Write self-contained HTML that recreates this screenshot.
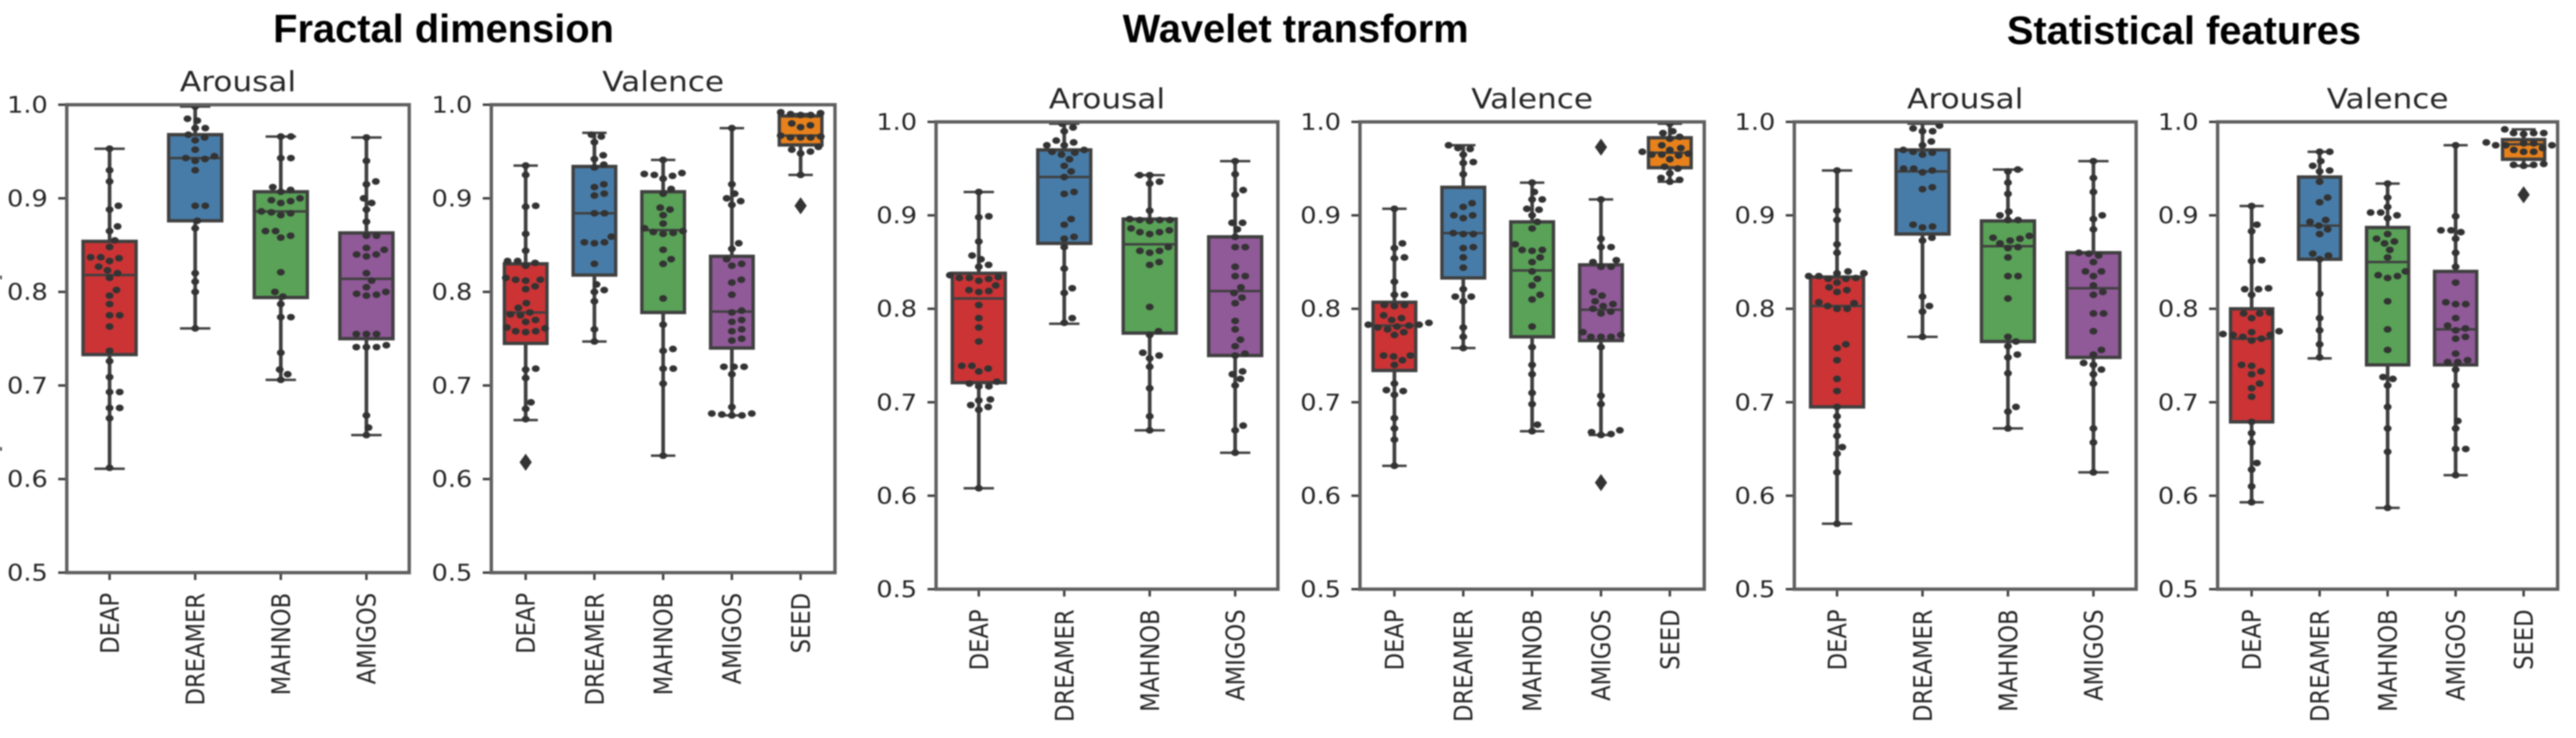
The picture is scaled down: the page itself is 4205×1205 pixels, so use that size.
<!DOCTYPE html>
<html lang="en">
<head>
<meta charset="utf-8">
<title>Fractal dimension, wavelet transform and statistical features box plots</title>
<style>
html,body{margin:0;padding:0;background:#fff;}
#figure{display:block;width:4205px;height:1205px;filter:blur(1px);}
.main-title{font-family:"Liberation Sans",sans-serif;font-weight:bold;font-size:65px;fill:#000;text-anchor:middle;}
.sub-title{font-family:"DejaVu Sans",sans-serif;font-size:45px;fill:#262626;text-anchor:middle;}
.tick-label{font-family:"DejaVu Sans",sans-serif;font-size:37px;fill:#262626;}
</style>
</head>
<body>
<svg id="figure" xmlns="http://www.w3.org/2000/svg" width="4205" height="1205" viewBox="0 0 4205 1205">
  <rect x="0" y="0" width="4205" height="1205" fill="#ffffff"/>
  <text class="main-title" x="724" y="69">Fractal dimension</text>
  <text class="main-title" x="2115" y="69">Wavelet transform</text>
  <text class="main-title" x="3565" y="72">Statistical features</text>
  <rect x="0" y="450" width="3" height="6" fill="#444"/>
  <rect x="0" y="730" width="3" height="6" fill="#444"/>
  <g id="panels"></g>
</svg>
<script>
// ---------- shared labels ----------
const categoriesArousal = ["DEAP", "DREAMER", "MAHNOB", "AMIGOS"];
const categoriesValence = ["DEAP", "DREAMER", "MAHNOB", "AMIGOS", "SEED"];
const yTickValues = [0.5, 0.6, 0.7, 0.8, 0.9, 1.0];
const yTickLabels = ["0.5", "0.6", "0.7", "0.8", "0.9", "1.0"];

// ---------- Fractal dimension / Arousal ----------
// each box: [lower whisker, q1, median, q3, upper whisker]
const fdArousalBoxes = [
  [0.611, 0.733, 0.818, 0.854, 0.953],
  [0.761, 0.876, 0.943, 0.968, 0.998],
  [0.706, 0.794, 0.886, 0.907, 0.966],
  [0.647, 0.750, 0.814, 0.863, 0.965]
];
const fdArousalPoints = [
  [0.953,0.930,0.918,0.892,0.888,0.870,0.865,0.855,0.848,0.837,0.837,0.836,0.833,0.827,0.823,0.820,0.815,0.802,0.796,0.787,0.775,0.775,0.763,0.737,0.726,0.709,0.693,0.693,0.676,0.676,0.665,0.612],
  [0.998,0.985,0.983,0.975,0.975,0.968,0.965,0.962,0.952,0.945,0.943,0.942,0.940,0.930,0.892,0.892,0.876,0.868,0.820,0.811,0.800,0.761],
  [0.966,0.966,0.943,0.943,0.912,0.909,0.907,0.900,0.898,0.897,0.895,0.886,0.885,0.884,0.882,0.865,0.865,0.860,0.858,0.821,0.800,0.795,0.787,0.773,0.773,0.735,0.717,0.712,0.706],
  [0.965,0.940,0.918,0.915,0.900,0.895,0.888,0.875,0.860,0.860,0.847,0.845,0.840,0.840,0.838,0.820,0.812,0.805,0.800,0.798,0.797,0.796,0.755,0.755,0.755,0.743,0.741,0.741,0.741,0.668,0.655,0.647]
];
const fdArousalOutliers = [[], [], [], []];

// ---------- Fractal dimension / Valence ----------
const fdValenceBoxes = [
  [0.663, 0.745, 0.778, 0.830, 0.935],
  [0.747, 0.818, 0.884, 0.934, 0.970],
  [0.625, 0.778, 0.866, 0.907, 0.941],
  [0.668, 0.740, 0.779, 0.838, 0.975],
  [0.925, 0.957, 0.967, 0.988, 0.990]
];
const fdValencePoints = [
  [0.935,0.925,0.892,0.891,0.862,0.844,0.833,0.833,0.831,0.828,0.815,0.813,0.813,0.812,0.806,0.803,0.788,0.783,0.778,0.776,0.775,0.770,0.768,0.762,0.761,0.758,0.758,0.757,0.718,0.717,0.708,0.682,0.675,0.664],
  [0.968,0.966,0.960,0.946,0.942,0.936,0.933,0.915,0.912,0.905,0.903,0.884,0.884,0.859,0.853,0.852,0.853,0.830,0.808,0.802,0.800,0.790,0.760,0.747],
  [0.941,0.927,0.926,0.925,0.924,0.921,0.910,0.905,0.890,0.888,0.882,0.873,0.868,0.865,0.864,0.863,0.862,0.845,0.835,0.830,0.793,0.765,0.739,0.737,0.718,0.718,0.702,0.625],
  [0.975,0.915,0.905,0.900,0.897,0.893,0.852,0.846,0.835,0.830,0.828,0.813,0.810,0.797,0.780,0.778,0.770,0.768,0.760,0.758,0.750,0.748,0.720,0.720,0.720,0.712,0.677,0.670,0.670,0.669,0.668,0.668],
  [0.992,0.991,0.990,0.989,0.989,0.980,0.978,0.976,0.967,0.966,0.965,0.965,0.965,0.955,0.952,0.950,0.948,0.925]
];
const fdValenceOutliers = [[0.618], [], [], [], [0.892]];

// ---------- Wavelet transform / Arousal ----------
const wtArousalBoxes = [
  [0.608, 0.721, 0.811, 0.838, 0.925],
  [0.784, 0.870, 0.941, 0.970, 0.998],
  [0.670, 0.774, 0.869, 0.896, 0.943],
  [0.646, 0.750, 0.819, 0.877, 0.958]
];
const wtArousalPoints = [
  [0.925,0.899,0.898,0.872,0.857,0.853,0.847,0.845,0.836,0.834,0.833,0.833,0.832,0.830,0.825,0.820,0.819,0.818,0.804,0.790,0.780,0.765,0.739,0.739,0.736,0.733,0.722,0.720,0.717,0.717,0.703,0.702,0.697,0.695,0.692,0.608],
  [0.998,0.994,0.990,0.980,0.978,0.975,0.975,0.970,0.968,0.967,0.965,0.960,0.953,0.947,0.941,0.925,0.923,0.896,0.890,0.877,0.875,0.866,0.843,0.822,0.817,0.790,0.785],
  [0.943,0.943,0.936,0.934,0.905,0.896,0.895,0.895,0.895,0.894,0.886,0.884,0.882,0.882,0.880,0.866,0.862,0.862,0.860,0.850,0.847,0.802,0.776,0.772,0.753,0.750,0.747,0.738,0.715,0.685,0.670],
  [0.958,0.944,0.927,0.922,0.892,0.892,0.885,0.877,0.866,0.866,0.845,0.835,0.835,0.823,0.817,0.812,0.806,0.787,0.778,0.767,0.760,0.752,0.750,0.733,0.730,0.725,0.718,0.675,0.670,0.646]
];
const wtArousalOutliers = [[], [], [], []];

// ---------- Wavelet transform / Valence ----------
const wtValenceBoxes = [
  [0.632, 0.734, 0.782, 0.807, 0.907],
  [0.758, 0.833, 0.881, 0.930, 0.975],
  [0.669, 0.770, 0.841, 0.893, 0.935],
  [0.665, 0.766, 0.799, 0.847, 0.917],
  [0.936, 0.951, 0.967, 0.983, 0.998]
];
const wtValencePoints = [
  [0.907,0.870,0.865,0.855,0.854,0.829,0.815,0.815,0.804,0.804,0.803,0.793,0.790,0.788,0.785,0.783,0.783,0.782,0.781,0.780,0.778,0.775,0.772,0.750,0.749,0.750,0.745,0.740,0.720,0.713,0.712,0.708,0.683,0.672,0.660,0.632],
  [0.975,0.972,0.971,0.965,0.957,0.956,0.944,0.913,0.909,0.900,0.900,0.897,0.881,0.880,0.880,0.866,0.865,0.855,0.844,0.821,0.813,0.813,0.808,0.780,0.770,0.758],
  [0.935,0.925,0.917,0.917,0.907,0.906,0.900,0.893,0.886,0.869,0.863,0.863,0.862,0.855,0.850,0.840,0.832,0.825,0.815,0.810,0.781,0.759,0.740,0.730,0.710,0.698,0.676,0.669],
  [0.917,0.875,0.866,0.866,0.852,0.850,0.845,0.845,0.818,0.814,0.808,0.805,0.803,0.800,0.797,0.795,0.775,0.772,0.770,0.770,0.770,0.759,0.707,0.698,0.670,0.668,0.666,0.665],
  [0.998,0.990,0.988,0.984,0.982,0.975,0.972,0.970,0.968,0.966,0.965,0.965,0.964,0.960,0.952,0.950,0.945,0.940,0.938,0.936]
];
const wtValenceOutliers = [[], [], [], [0.973, 0.614], []];

// ---------- Statistical features / Arousal ----------
const sfArousalBoxes = [
  [0.570, 0.695, 0.803, 0.834, 0.948],
  [0.770, 0.880, 0.947, 0.970, 0.998],
  [0.672, 0.765, 0.867, 0.894, 0.949],
  [0.625, 0.748, 0.822, 0.860, 0.958]
];
const sfArousalPoints = [
  [0.948,0.905,0.895,0.869,0.860,0.840,0.838,0.838,0.835,0.835,0.833,0.832,0.832,0.828,0.823,0.820,0.818,0.807,0.806,0.803,0.800,0.800,0.762,0.758,0.745,0.725,0.712,0.695,0.685,0.675,0.664,0.652,0.645,0.625,0.570],
  [0.996,0.993,0.990,0.990,0.979,0.975,0.970,0.968,0.967,0.965,0.950,0.950,0.948,0.946,0.930,0.928,0.890,0.888,0.887,0.876,0.873,0.813,0.803,0.797,0.770],
  [0.949,0.947,0.935,0.923,0.904,0.900,0.895,0.895,0.878,0.876,0.875,0.873,0.870,0.866,0.865,0.855,0.835,0.835,0.811,0.770,0.765,0.760,0.751,0.748,0.731,0.695,0.690,0.672],
  [0.958,0.940,0.925,0.900,0.896,0.885,0.860,0.859,0.857,0.850,0.840,0.840,0.835,0.825,0.818,0.815,0.795,0.795,0.776,0.756,0.751,0.742,0.740,0.735,0.730,0.720,0.672,0.657,0.625]
];
const sfArousalOutliers = [[], [], [], []];

// ---------- Statistical features / Valence ----------
const sfValenceBoxes = [
  [0.593, 0.679, 0.768, 0.800, 0.910],
  [0.747, 0.853, 0.889, 0.941, 0.968],
  [0.587, 0.740, 0.850, 0.887, 0.934],
  [0.622, 0.740, 0.778, 0.840, 0.975],
  [0.953, 0.960, 0.976, 0.981, 0.992]
];
const sfValencePoints = [
  [0.910,0.890,0.883,0.852,0.851,0.822,0.821,0.821,0.815,0.796,0.795,0.795,0.790,0.776,0.775,0.773,0.772,0.772,0.770,0.768,0.766,0.740,0.739,0.733,0.730,0.720,0.715,0.706,0.679,0.667,0.657,0.635,0.628,0.610,0.593],
  [0.968,0.968,0.958,0.953,0.948,0.947,0.936,0.919,0.914,0.895,0.893,0.889,0.885,0.880,0.859,0.857,0.853,0.816,0.790,0.777,0.762,0.748],
  [0.934,0.919,0.909,0.903,0.903,0.900,0.897,0.880,0.875,0.872,0.870,0.863,0.855,0.840,0.836,0.835,0.833,0.808,0.778,0.756,0.727,0.725,0.718,0.695,0.672,0.647,0.587],
  [0.975,0.899,0.884,0.884,0.882,0.875,0.860,0.845,0.828,0.807,0.805,0.805,0.790,0.782,0.779,0.777,0.770,0.768,0.752,0.745,0.743,0.743,0.735,0.718,0.680,0.672,0.650,0.650,0.622],
  [0.992,0.988,0.988,0.988,0.987,0.978,0.977,0.977,0.975,0.975,0.975,0.972,0.970,0.968,0.968,0.955,0.954,0.954,0.953]
];
const sfValenceOutliers = [[], [], [], [], [0.922]];

// ---------- styling and layout (not data) ----------
const boxColors = ["#cb3335", "#477ca8", "#59a257", "#905998", "#e8811b"];
const panels = [
  {id:"fractal-arousal",  title:"Arousal", left:109,  right:668,  top:171, bottom:935, cats:categoriesArousal, boxes:fdArousalBoxes, points:fdArousalPoints, outliers:fdArousalOutliers},
  {id:"fractal-valence",  title:"Valence", left:802,  right:1363, top:171, bottom:935, cats:categoriesValence, boxes:fdValenceBoxes, points:fdValencePoints, outliers:fdValenceOutliers},
  {id:"wavelet-arousal",  title:"Arousal", left:1528, right:2086, top:199, bottom:962, cats:categoriesArousal, boxes:wtArousalBoxes, points:wtArousalPoints, outliers:wtArousalOutliers},
  {id:"wavelet-valence",  title:"Valence", left:2220, right:2782, top:199, bottom:962, cats:categoriesValence, boxes:wtValenceBoxes, points:wtValencePoints, outliers:wtValenceOutliers},
  {id:"statistical-arousal", title:"Arousal", left:2929, right:3487, top:199, bottom:962, cats:categoriesArousal, boxes:sfArousalBoxes, points:sfArousalPoints, outliers:sfArousalOutliers},
  {id:"statistical-valence", title:"Valence", left:3620, right:4175, top:199, bottom:962, cats:categoriesValence, boxes:sfValenceBoxes, points:sfValencePoints, outliers:sfValenceOutliers}
];
const NS = "http://www.w3.org/2000/svg";
const DARK = "#404040";
const SPINE = "#5f5f5f";
const DOT = "#333333";
const SWARM_SPACING_X = 16.5;
const SWARM_SPACING_Y = 12.5;
const DOT_RX = 6.4;
const DOT_RY = 5.4;
const TEXT_STRETCH = 1.13;

function make(tag, attrs, parent) {
  const el = document.createElementNS(NS, tag);
  for (const k in attrs) el.setAttribute(k, attrs[k]);
  parent.appendChild(el);
  return el;
}

// Beeswarm: place lowest values first, each as near the centre as it can go without overlap.
function swarmOffsets(values, yScale) {
  const order = values.map((v, i) => i).sort((a, b) => values[a] - values[b]);
  const placed = [];
  const offsets = new Array(values.length).fill(0);
  const k = SWARM_SPACING_X / SWARM_SPACING_Y;
  order.forEach(function (idx) {
    const y = yScale(values[idx]);
    const near = placed.filter(p => Math.abs(p.y - y) < SWARM_SPACING_Y);
    const candidates = [0];
    near.forEach(function (p) {
      const ny = (p.y - y) * k;
      const dx = Math.sqrt(SWARM_SPACING_X * SWARM_SPACING_X - ny * ny);
      candidates.push(p.x + dx, p.x - dx);
    });
    candidates.sort((a, b) => Math.abs(a) - Math.abs(b));
    let chosen = 0;
    for (const c of candidates) {
      const clash = near.some(function (p) {
        const ny = (p.y - y) * k;
        return (p.x - c) * (p.x - c) + ny * ny < SWARM_SPACING_X * SWARM_SPACING_X - 0.01;
      });
      if (!clash) { chosen = c; break; }
    }
    offsets[idx] = chosen;
    placed.push({x: chosen, y: y});
  });
  return offsets;
}

function drawPanel(panel, root) {
  const width = panel.right - panel.left;
  const band = width / panel.cats.length;
  const xScale = i => panel.left + band * (i + 0.5);
  const yScale = v => panel.bottom - (v - 0.5) / 0.5 * (panel.bottom - panel.top);
  const boxWidth = band * 0.62;
  const capWidth = band * 0.355;

  const g = make("g", {}, root);
  
  

  const title = make("text", {"class": "sub-title", x: 0, y: 0, transform: "translate(" + ((panel.left + panel.right) / 2) + "," + (panel.top - 22) + ") scale(" + TEXT_STRETCH + ",1)"}, g);
  title.textContent = panel.title;
  
  

  yTickValues.forEach(function (v, i) {
    const tick = make("line", {x1: panel.left - 14, x2: panel.left, y1: yScale(v), y2: yScale(v), stroke: DARK, "stroke-width": 4}, g);
    
    
    const label = make("text", {"class": "tick-label", x: 0, y: 0, "text-anchor": "end", transform: "translate(" + (panel.left - 31) + "," + (yScale(v) + 13) + ") scale(" + TEXT_STRETCH + ",1)"}, g);
    label.textContent = yTickLabels[i];
    
    
  });

  panel.cats.forEach(function (cat, i) {
    const x = xScale(i);
    const slug = cat.toLowerCase();
    const tick = make("line", {x1: x, x2: x, y1: panel.bottom, y2: panel.bottom + 12, stroke: DARK, "stroke-width": 4}, g);
    
    
    const label = make("text", {"class": "tick-label", x: 0, y: 0, "text-anchor": "end", transform: "translate(" + (x + 15) + "," + (panel.bottom + 33) + ") rotate(-90) scale(1," + TEXT_STRETCH + ")"}, g);
    label.textContent = cat;
    
    

    const b = panel.boxes[i];
    const whisker = make("line", {x1: x, x2: x, y1: yScale(b[0]), y2: yScale(b[4]), stroke: DARK, "stroke-width": 6}, g);
    
    
    const capLow = make("line", {x1: x - capWidth / 2, x2: x + capWidth / 2, y1: yScale(b[0]), y2: yScale(b[0]), stroke: DARK, "stroke-width": 4}, g);
    
    
    const capHigh = make("line", {x1: x - capWidth / 2, x2: x + capWidth / 2, y1: yScale(b[4]), y2: yScale(b[4]), stroke: DARK, "stroke-width": 4}, g);
    
    
    const box = make("rect", {x: x - boxWidth / 2, y: yScale(b[3]), width: boxWidth, height: yScale(b[1]) - yScale(b[3]), fill: boxColors[i], stroke: DARK, "stroke-width": 5.5}, g);
    
    
    const median = make("line", {x1: x - boxWidth / 2, x2: x + boxWidth / 2, y1: yScale(b[2]), y2: yScale(b[2]), stroke: DARK, "stroke-width": 4}, g);
    
    

    const offsets = swarmOffsets(panel.points[i], yScale);
    panel.points[i].forEach(function (v, j) {
      const dot = make("ellipse", {cx: x + offsets[j], cy: yScale(v), rx: DOT_RX, ry: DOT_RY, fill: DOT}, g);
      
      
    });

    panel.outliers[i].forEach(function (v) {
      const y = yScale(v);
      const d = make("path", {d: "M" + x + " " + (y - 14) + "L" + (x + 10) + " " + y + "L" + x + " " + (y + 14) + "L" + (x - 10) + " " + y + "Z", fill: DOT}, g);
      
      
    });
  });

  const frame = make("rect", {x: panel.left, y: panel.top, width: width, height: panel.bottom - panel.top, fill: "none", stroke: SPINE, "stroke-width": 5.5}, g);
  
  
}

const panelsRoot = document.getElementById("panels");
panels.forEach(p => drawPanel(p, panelsRoot));
</script>
</body>
</html>
